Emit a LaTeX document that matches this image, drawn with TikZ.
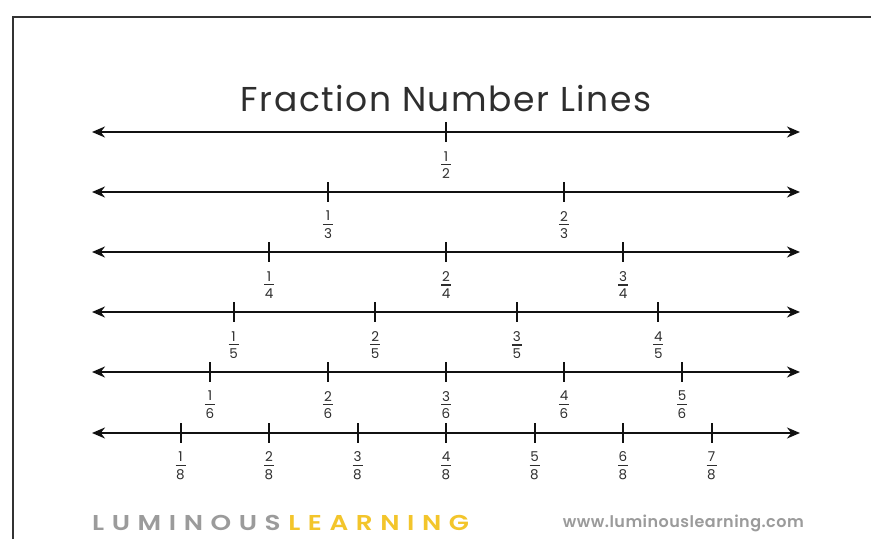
\documentclass[tikz,border=0pt]{standalone}
\usepackage{fontspec}
\setmainfont{Poppins}
\newfontfamily\titlefont[LetterSpace=4.5]{Poppins}
\newfontfamily\logofont[FakeStretch=1.22]{Poppins SemiBold}
\newfontfamily\urlfont[LetterSpace=3]{Poppins SemiBold}
\usetikzlibrary{arrows.meta,calc}
\definecolor{ink}{HTML}{111111}
\definecolor{txt}{HTML}{2E2E2E}
\definecolor{logogray}{HTML}{9B9B9B}
\definecolor{logoyellow}{HTML}{F3C52B}
\newcommand{\fr}[2]{\vbox{\offinterlineskip
  \hbox to 12pt{\hss#1\hss}\kern3pt
  \hbox to 12pt{\hss\rule{10pt}{1.3pt}\hss}\kern3.5pt
  \hbox to 12pt{\hss#2\hss}}}
\newcommand{\lk}{\kern7.6pt}
\tikzset{
  numline/.style={line width=2pt,draw=ink,{Stealth[length=13pt,width=11pt]}-{Stealth[length=13pt,width=11pt]}},
  tick/.style={line width=2pt,draw=ink},
  frac/.style={font=\fontsize{13.5}{14}\selectfont,text=txt,inner sep=0pt,anchor=center},
  border/.style={line width=2pt,draw=black!80}
}
\begin{document}
\begin{tikzpicture}[x=1pt,y=-1pt]
\useasboundingbox (0,0) rectangle (871,539);
\fill[white] (0,0) rectangle (871,539);
% page border
\coordinate (bl) at (13,539);
\coordinate (tl) at (13,17);
\coordinate (tr) at (871,17);
\draw[border] (bl) -- (tl) -- (tr);
% title
\node[font=\titlefont\fontsize{34.5}{36}\selectfont,text=txt] (title) at (446,99) {Fraction Number Lines};
% number lines
\foreach \n/\y in {2/132,3/192,4/252,5/312,6/372,8/433}{
  \coordinate (L\n) at (92,\y);
  \coordinate (R\n) at (800,\y);
  \draw[numline] (L\n) -- (R\n);
  \pgfmathtruncatemacro{\last}{\n-1}
  \foreach \k in {1,...,\last}{
    \coordinate (t\n-\k) at ($(L\n)!\k/\n!(R\n)$);
    \coordinate (tu\n-\k) at ([yshift=10pt]t\n-\k);
    \coordinate (td\n-\k) at ([yshift=-10pt]t\n-\k);
    \draw[tick] (tu\n-\k) -- (td\n-\k);
    \node[frac] (f\n-\k) at ([yshift=-33pt]t\n-\k) {\fr{\k}{\n}};
  }
}
% logo
\node[anchor=west,inner sep=0pt,font=\logofont\fontsize{21.5}{22}\selectfont] (logo) at (92,523)
  {\color{logogray}L\lk U\lk M\lk I\lk N\lk O\lk U\lk S\lk\color{logoyellow}L\lk E\lk A\lk R\lk N\lk I\lk N\lk G};
\node[anchor=east,inner sep=0pt,font=\urlfont\fontsize{16}{18}\selectfont,text=logogray] (url) at (804,523)
  {www.luminouslearning.com};
\end{tikzpicture}
\end{document}
